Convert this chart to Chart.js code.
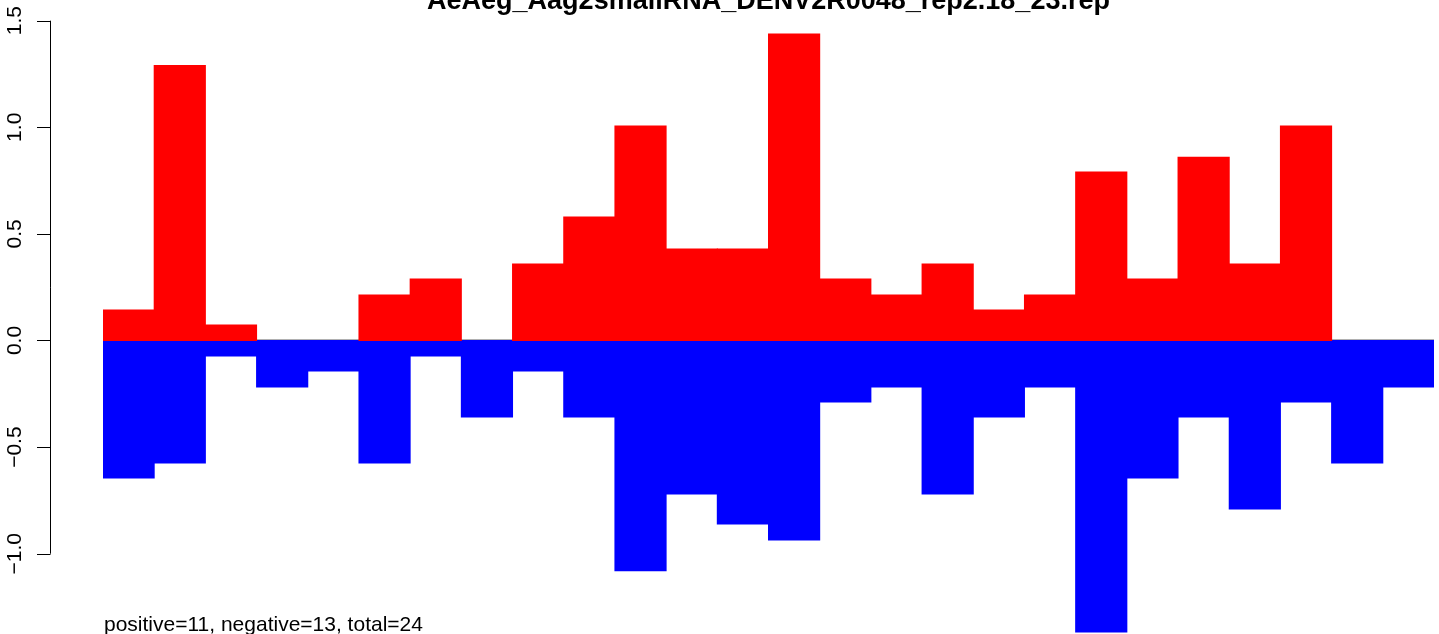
<!DOCTYPE html>
<html>
<head>
<meta charset="utf-8">
<script src="https://cdn.jsdelivr.net/npm/chart.js@4/dist/chart.umd.min.js"></script>
<style>
  html, body { margin: 0; padding: 0; background: #fff; }
  #wrap { width: 1439px; height: 634px; position: relative; }
</style>
</head>
<body>
<div id="wrap"><canvas id="chart"></canvas></div>
<script>
// values
const positions = ['1','2','3','4','5','6','7','8','9','10','11','12','13','14','15','16','17','18','19','20','21','22','23','24','25','26'];
const positiveValues = [0.143, 1.29, 0.073, 0, 0, 0.213, 0.289, 0, 0.359, 0.579, 1.006, 0.429, 0.429, 1.437,
  0.289, 0.213, 0.359, 0.143, 0.213, 0.79, 0.289, 0.86, 0.359, 1.006, 0, 0];
const negativeValues = [-0.645, -0.575, -0.073, -0.218, -0.143, -0.575, -0.073, -0.359, -0.143, -0.359, -1.08, -0.72, -0.861, -0.936,
  -0.289, -0.218, -0.72, -0.359, -0.218, -1.367, -0.645, -0.359, -0.79, -0.289, -0.575, -0.218];
const yTicks = [-1, -0.5, 0, 0.5, 1, 1.5];
const yTickLabels = ['\u22121.0', '\u22120.5', '0.0', '0.5', '1.0', '1.5'];
const titleText = 'AeAeg_Aag2smallRNA_DENV2R0048_rep2.18_23.rep';
const footText = 'positive=11, negative=13, total=24';

const FONT = '"Liberation Sans", Arial, Helvetica, sans-serif';

// empty bars are skipped so only the faint zero line shows there
const nz = arr => arr.map(v => (v === 0 ? null : v));

// R-style decorations: detached y axis, title, count note, zero line
const rDecor = {
  id: 'rDecor',
  beforeDatasetsDraw(chart) {
    const { ctx, chartArea, scales } = chart;
    const y0 = Math.round(scales.y.getPixelForValue(0)) - 0.5;
    ctx.save();
    ctx.strokeStyle = '#b0b0b0';
    ctx.lineWidth = 1;
    ctx.beginPath();
    ctx.moveTo(chartArea.left, y0);
    ctx.lineTo(chartArea.right, y0);
    ctx.stroke();
    ctx.restore();
  },
  afterDraw(chart) {
    const { ctx, chartArea, scales } = chart;
    const ys = scales.y;
    ctx.save();
    ctx.strokeStyle = '#000';
    ctx.fillStyle = '#000';
    ctx.lineWidth = 1;

    // axis line + ticks
    const axX = 50.5;
    const yTop = ys.getPixelForValue(yTicks[yTicks.length - 1]);
    const yBot = ys.getPixelForValue(yTicks[0]);
    ctx.beginPath();
    ctx.moveTo(axX, yTop);
    ctx.lineTo(axX, yBot);
    yTicks.forEach(v => {
      const py = Math.round(ys.getPixelForValue(v)) + 0.5;
      ctx.moveTo(axX, py);
      ctx.lineTo(37, py);
    });
    ctx.stroke();

    // rotated tick labels
    ctx.font = '21px ' + FONT;
    ctx.textAlign = 'center';
    ctx.textBaseline = 'alphabetic';
    yTicks.forEach((v, i) => {
      ctx.save();
      ctx.translate(21, ys.getPixelForValue(v));
      ctx.rotate(-Math.PI / 2);
      ctx.fillText(yTickLabels[i], 0, 0);
      ctx.restore();
    });

    // title (partly cut off at the top as in the reference)
    ctx.font = 'bold 27px ' + FONT;
    ctx.textAlign = 'center';
    ctx.fillText(titleText, (chartArea.left + chartArea.right) / 2, 9);

    // count note
    ctx.font = '21px ' + FONT;
    ctx.textAlign = 'left';
    ctx.fillText(footText, chartArea.left + 1, 631);
    ctx.restore();
  }
};

const ctx = document.getElementById('chart').getContext('2d');
const chart = new Chart(ctx, {
  type: 'bar',
  data: {
    labels: positions,
    datasets: [{
      label: 'positive',
      data: nz(positiveValues),
      backgroundColor: '#ff0000',
      borderWidth: 0,
      inflateAmount: 0.5,
      categoryPercentage: 1,
      barPercentage: 1
    }, {
      label: 'negative',
      data: nz(negativeValues),
      backgroundColor: '#0000ff',
      borderWidth: 0,
      inflateAmount: 0.5,
      categoryPercentage: 1,
      barPercentage: 1
    }]
  },
  options: {
    responsive: true,
    maintainAspectRatio: false,
    animation: false,
    layout: { padding: { left: 103, right: 5, top: 0, bottom: 0 } },
    scales: {
      x: { stacked: true, display: false },
      y: { stacked: true, display: false, min: -1.3766, max: 1.597 }
    },
    plugins: {
      legend: { display: false },
      tooltip: { enabled: false }
    }
  },
  plugins: [rDecor]
});
</script>
</body>
</html>
